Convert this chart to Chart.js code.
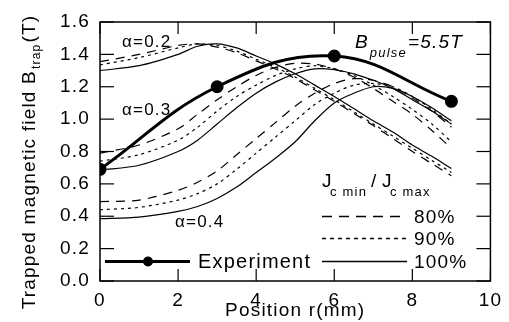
<!DOCTYPE html>
<html>
<head>
<meta charset="utf-8">
<script src="https://cdn.jsdelivr.net/npm/chart.js@4/dist/chart.umd.min.js"></script>
<style>
html,body{margin:0;padding:0;background:#fff;}
#wrap{width:509px;height:322px;}
</style>
</head>
<body>
<div id="wrap"><canvas id="c" width="509" height="322"></canvas></div>
<script>
// ---- data ----
const positions = [0,1,2,2.5,3,3.5,4,4.5,5,5.5,6,6.5,7,7.5,8,8.5,9];
const a02_100 = [1.30,1.33,1.40,1.45,1.465,1.44,1.39,1.34,1.28,1.21,1.14,1.065,0.99,0.92,0.84,0.77,0.695];
const a02_90  = [1.335,1.38,1.44,1.465,1.455,1.42,1.37,1.32,1.26,1.19,1.12,1.045,0.97,0.895,0.82,0.745,0.67];
const a02_80  = [1.355,1.40,1.455,1.465,1.445,1.41,1.36,1.31,1.25,1.18,1.11,1.035,0.96,0.88,0.80,0.725,0.65];
const a03_100 = [0.685,0.715,0.80,0.87,0.97,1.07,1.16,1.23,1.28,1.31,1.305,1.28,1.24,1.19,1.12,1.05,0.97];
const a03_90  = [0.74,0.78,0.87,0.95,1.05,1.14,1.21,1.27,1.31,1.33,1.31,1.27,1.21,1.14,1.06,0.97,0.86];
const a03_80  = [0.79,0.84,0.94,1.03,1.12,1.20,1.27,1.32,1.345,1.34,1.31,1.26,1.19,1.11,1.03,0.93,0.82];
const a04_100 = [0.385,0.395,0.43,0.46,0.51,0.58,0.67,0.76,0.86,0.99,1.10,1.16,1.20,1.19,1.14,1.07,0.99];
const a04_90  = [0.44,0.455,0.50,0.54,0.60,0.69,0.79,0.89,0.99,1.09,1.16,1.21,1.22,1.20,1.14,1.06,0.97];
const a04_80  = [0.49,0.50,0.56,0.61,0.68,0.78,0.88,0.98,1.08,1.16,1.22,1.25,1.24,1.20,1.13,1.05,0.95];
const expPos = [0,3,6,9];
const expB   = [0.69,1.20,1.39,1.11];
const xTickVals = [0,2,4,6,8,10];
const yTickVals = [0,0.2,0.4,0.6,0.8,1.0,1.2,1.4,1.6];

const FONT = "'Liberation Sans', Arial, sans-serif";
const DASH80 = [9,7], DASH90 = [3,4];

function xy(xs, ys){ return xs.map((x,i)=>({x:x, y:ys[i]})); }
function sim(data, dash){
  return {data: xy(positions, data), borderColor:'#000', borderWidth:1.2, borderDash:dash,
          pointRadius:0, tension:0.3, fill:false};
}

const deco = {
  id:'deco',
  beforeDraw(chart){ chart.ctx.letterSpacing = '1.2px'; },
  afterDraw(chart){
    const {ctx, chartArea:{left,right,top,bottom}, scales:{x,y}} = chart;
    ctx.save();
    ctx.strokeStyle = '#000';
    ctx.lineWidth = 1.5;
    ctx.setLineDash([]);
    ctx.strokeRect(left, top, right-left, bottom-top);
    ctx.lineWidth = 1.2;
    const ln = (x1,y1,x2,y2)=>{ctx.beginPath();ctx.moveTo(x1,y1);ctx.lineTo(x2,y2);ctx.stroke();};
    yTickVals.forEach(v=>{ const py=y.getPixelForValue(v); ln(left,py,left+14,py); ln(right,py,right-14,py); });
    xTickVals.forEach(v=>{ const px=x.getPixelForValue(v); ln(px,bottom,px,bottom-12); ln(px,top,px,top+12); });

    ctx.fillStyle = '#000';
    ctx.textBaseline = 'alphabetic';
    ctx.textAlign = 'left';
    ctx.letterSpacing = '1.2px';
    // alpha labels
    ctx.font = '17px ' + FONT;
    ctx.fillText('\u03B1=0.2', 122, 47);
    ctx.fillText('\u03B1=0.3', 122, 115);
    ctx.fillText('\u03B1=0.4', 175, 227);
    // B_pulse
    ctx.font = 'italic 19px ' + FONT;
    ctx.fillText('B', 355, 48);
    let w = ctx.measureText('B').width;
    ctx.font = 'italic 13px ' + FONT;
    ctx.fillText('pulse', 355 + w + 1, 57);
    let w2 = ctx.measureText('pulse').width;
    ctx.font = 'italic 19px ' + FONT;
    ctx.fillText('=5.5T', 355 + w + 1 + w2 + 1, 48);

    // legend header Jc min / Jc max
    ctx.font = '19px ' + FONT;
    ctx.fillText('J', 322, 187);
    ctx.font = '13px ' + FONT;
    ctx.fillText('c min', 330, 196);
    ctx.font = '19px ' + FONT;
    ctx.fillText('/', 371, 187);
    ctx.fillText('J', 382, 187);
    ctx.font = '13px ' + FONT;
    ctx.fillText('c max', 390, 196);

    // legend lines
    const legRows = [[DASH80,'80%',216.5],[DASH90,'90%',238.5],[[], '100%',261.5]];
    ctx.font = '19px ' + FONT;
    ctx.textBaseline = 'middle';
    legRows.forEach(([d,t,py])=>{
      ctx.setLineDash(d.length?[10,7]:[]);
      if (t==='90%') ctx.setLineDash([4,4]);
      ctx.lineWidth = 1.5;
      ln(322,py,407,py);
      ctx.setLineDash([]);
      ctx.fillText(t, 414, py+1);
    });
    // experiment legend
    ctx.lineWidth = 3;
    ln(105,261.5,190,261.5);
    ctx.beginPath(); ctx.arc(148,261.5,5,0,Math.PI*2); ctx.fill();
    ctx.font = '20px ' + FONT;
    ctx.fillText('Experiment', 198, 262);

    // y-axis title
    ctx.translate(35, 162);
    ctx.rotate(-Math.PI/2);
    ctx.textBaseline = 'alphabetic';
    const p1 = 'Trapped magnetic field B', p2 = 'trap', p3 = '(T)';
    ctx.font = '19px ' + FONT; const w1 = ctx.measureText(p1).width, w3 = ctx.measureText(p3).width;
    ctx.font = '12px ' + FONT; const wsub = ctx.measureText(p2).width;
    const total = w1 + wsub + w3 + 2;
    let sx = -total/2;
    ctx.font = '19px ' + FONT; ctx.fillText(p1, sx, 0);
    ctx.font = '12px ' + FONT; ctx.fillText(p2, sx + w1 + 1, 5);
    ctx.font = '19px ' + FONT; ctx.fillText(p3, sx + w1 + wsub + 2, 0);
    ctx.restore();
  }
};

new Chart(document.getElementById('c'), {
  type:'line',
  data:{ datasets:[
    sim(a02_80, DASH80), sim(a02_90, DASH90), sim(a02_100, []),
    sim(a03_80, DASH80), sim(a03_90, DASH90), sim(a03_100, []),
    sim(a04_80, DASH80), sim(a04_90, DASH90), sim(a04_100, []),
    {data: xy(expPos, expB), borderColor:'#000', borderWidth:3, pointRadius:5,
     pointBackgroundColor:'#000', pointBorderColor:'#000', tension:0.4, fill:false}
  ]},
  options:{
    responsive:false, animation:false, devicePixelRatio:1,
    layout:{padding:{left:0,right:14,top:22,bottom:0}},
    plugins:{legend:{display:false}, tooltip:{enabled:false}},
    scales:{
      x:{type:'linear', min:0, max:10,
         afterBuildTicks(s){ s.ticks = xTickVals.map(v=>({value:v})); },
         afterFit(s){ s.height = 41; },
         grid:{display:false, drawTicks:false}, border:{display:false},
         ticks:{padding:8, color:'#000', font:{family:FONT, size:19}, callback:v=>String(v), maxRotation:0},
         title:{display:true, text:'Position r(mm)', color:'#000', font:{family:FONT, size:19}, padding:{top:0,bottom:0}}
      },
      y:{type:'linear', min:0, max:1.6,
         afterBuildTicks(s){ s.ticks = yTickVals.map(v=>({value:v})); },
         afterFit(s){ s.width = 100; },
         grid:{display:false, drawTicks:false}, border:{display:false},
         ticks:{padding:10, color:'#000', font:{family:FONT, size:19}, callback:v=>Number(v).toFixed(1)}
      }
    }
  },
  plugins:[deco]
});
</script>
</body>
</html>
